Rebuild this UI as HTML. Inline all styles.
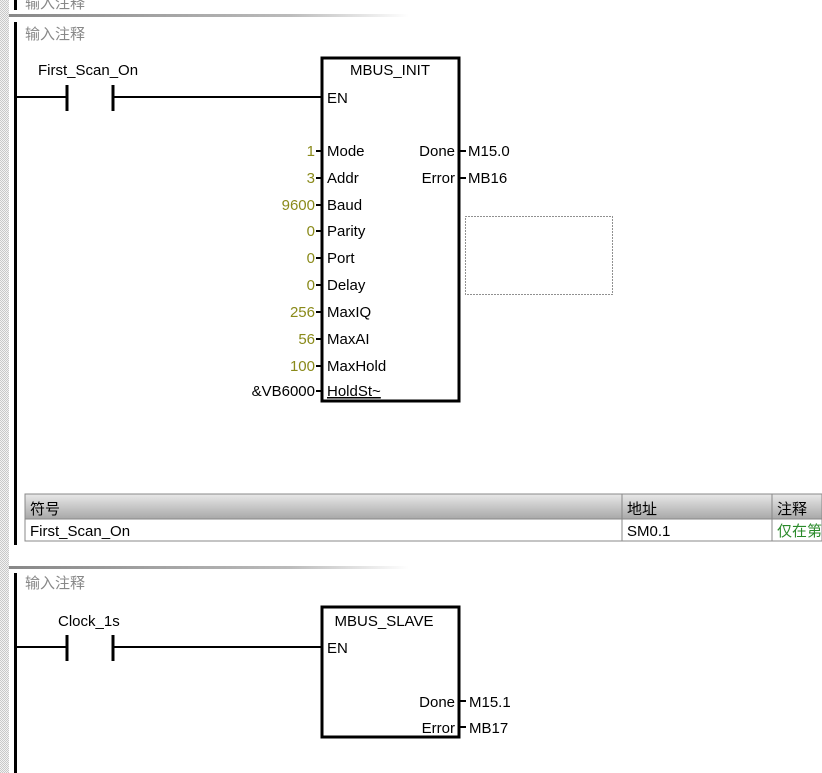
<!DOCTYPE html>
<html><head><meta charset="utf-8"><style>
html,body{margin:0;padding:0;background:#fff;}
svg{display:block;}
text{font-family:"Liberation Sans","Noto Sans CJK SC",sans-serif;font-size:15px;}
</style></head><body>
<svg width="822" height="773" viewBox="0 0 822 773" xmlns="http://www.w3.org/2000/svg">
<defs>
<pattern id="dots" width="2" height="2" patternUnits="userSpaceOnUse"><rect width="2" height="2" fill="#f2f2f2"/><rect width="1" height="1" fill="#c8c8c8"/><rect x="1" y="1" width="1" height="1" fill="#c8c8c8"/></pattern>
<linearGradient id="sep" x1="0" x2="1"><stop offset="0" stop-color="#888"/><stop offset="0.7" stop-color="#bbb"/><stop offset="1" stop-color="#fff"/></linearGradient>
<linearGradient id="hdr" x1="0" y1="0" x2="0" y2="1"><stop offset="0" stop-color="#e8e8e8"/><stop offset="1" stop-color="#a8a8a8"/></linearGradient>
</defs>
<rect x="0" y="0" width="9" height="773" fill="url(#dots)"/>
<rect x="14" y="0" width="3" height="10" fill="#000"/>
<text x="25" y="8" fill="#888">输入注释</text>
<rect x="9" y="14" width="400" height="3" fill="url(#sep)"/>
<rect x="14" y="22" width="3" height="523" fill="#000"/>
<text x="25" y="39" fill="#888">输入注释</text>
<text x="38" y="75" fill="#000">First_Scan_On</text>
<line x1="16" y1="97" x2="67" y2="97" stroke="#000" stroke-width="2"/>
<line x1="67" y1="85" x2="67" y2="111" stroke="#000" stroke-width="3"/>
<line x1="113" y1="85" x2="113" y2="111" stroke="#000" stroke-width="3"/>
<line x1="113" y1="97" x2="322" y2="97" stroke="#000" stroke-width="2"/>
<rect x="322" y="58" width="137" height="343" fill="none" stroke="#000" stroke-width="3"/>
<text x="390" y="75" text-anchor="middle">MBUS_INIT</text>
<text x="327" y="103">EN</text>
<g fill="#000">
<text x="327" y="156">Mode</text><text x="327" y="183">Addr</text><text x="327" y="210">Baud</text>
<text x="327" y="236">Parity</text><text x="327" y="263">Port</text><text x="327" y="290">Delay</text>
<text x="327" y="317">MaxIQ</text><text x="327" y="344">MaxAI</text><text x="327" y="371">MaxHold</text>
<text x="327" y="396" text-decoration="underline">HoldSt~</text>
<text x="455" y="156" text-anchor="end">Done</text><text x="455" y="183" text-anchor="end">Error</text>
<text x="468" y="156">M15.0</text><text x="468" y="183">MB16</text>
<text x="315" y="396" text-anchor="end">&amp;VB6000</text>
</g>
<g fill="#8a8a1a" text-anchor="end">
<text x="315" y="156">1</text><text x="315" y="183">3</text><text x="315" y="210">9600</text>
<text x="315" y="236">0</text><text x="315" y="263">0</text><text x="315" y="290">0</text>
<text x="315" y="317">256</text><text x="315" y="344">56</text><text x="315" y="371">100</text>
</g>
<g stroke="#000" stroke-width="2">
<line x1="316" y1="151" x2="322" y2="151"/><line x1="316" y1="178" x2="322" y2="178"/><line x1="316" y1="205" x2="322" y2="205"/>
<line x1="316" y1="231" x2="322" y2="231"/><line x1="316" y1="258" x2="322" y2="258"/><line x1="316" y1="285" x2="322" y2="285"/>
<line x1="316" y1="312" x2="322" y2="312"/><line x1="316" y1="339" x2="322" y2="339"/><line x1="316" y1="366" x2="322" y2="366"/>
<line x1="316" y1="391" x2="322" y2="391"/>
<line x1="459" y1="151" x2="466" y2="151"/><line x1="459" y1="178" x2="466" y2="178"/>
</g>
<rect x="465.5" y="216.5" width="147" height="78" fill="none" stroke="#222" stroke-width="1" stroke-dasharray="1,2"/>
<rect x="25" y="494" width="797" height="25" fill="url(#hdr)" stroke="#888"/>
<rect x="25" y="519" width="797" height="22" fill="#fff" stroke="#888"/>
<line x1="622" y1="494" x2="622" y2="541" stroke="#888"/>
<line x1="772" y1="494" x2="772" y2="541" stroke="#888"/>
<text x="30" y="514" font-size="16">符号</text>
<text x="627" y="514" font-size="16">地址</text>
<text x="777" y="514" font-size="16">注释</text>
<text x="30" y="536">First_Scan_On</text>
<text x="627" y="536">SM0.1</text>
<text x="777" y="536" fill="#2a8a2a">仅在第</text>
<rect x="9" y="566" width="400" height="3" fill="url(#sep)"/>
<rect x="14" y="573" width="3" height="200" fill="#000"/>
<text x="25" y="588" fill="#888">输入注释</text>
<text x="58" y="626">Clock_1s</text>
<line x1="16" y1="647" x2="67" y2="647" stroke="#000" stroke-width="2"/>
<line x1="67" y1="635" x2="67" y2="661" stroke="#000" stroke-width="3"/>
<line x1="113" y1="635" x2="113" y2="661" stroke="#000" stroke-width="3"/>
<line x1="113" y1="647" x2="322" y2="647" stroke="#000" stroke-width="2"/>
<rect x="322" y="607" width="137" height="130" fill="none" stroke="#000" stroke-width="3"/>
<text x="384" y="626" text-anchor="middle">MBUS_SLAVE</text>
<text x="327" y="653">EN</text>
<text x="455" y="707" text-anchor="end">Done</text><text x="455" y="733" text-anchor="end">Error</text>
<text x="469" y="707">M15.1</text><text x="469" y="733">MB17</text>
<line x1="459" y1="701" x2="466" y2="701" stroke="#000" stroke-width="2"/>
<line x1="459" y1="727" x2="466" y2="727" stroke="#000" stroke-width="2"/>
</svg>
</body></html>
